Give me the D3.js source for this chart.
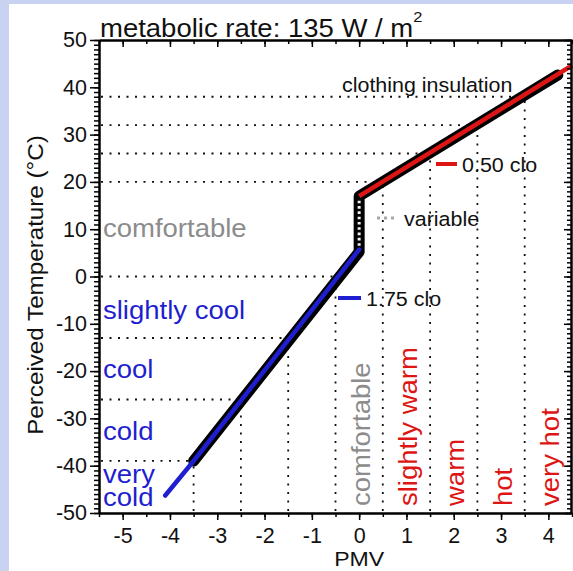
<!DOCTYPE html>
<html>
<head>
<meta charset="utf-8">
<script src="https://cdn.jsdelivr.net/npm/d3@7"></script>
<style>
  body { margin: 0; background: #fff; }
  svg { display: block; font-family: "Liberation Sans", Arial, sans-serif; }
</style>
</head>
<body>
<div id="chart"></div>
<script>
// PMV / perceived temperature band limits (the dotted L-shaped guides)
const pmvThresholds = [-3.5, -2.5, -1.5, -0.5, 0.5, 1.5, 2.5, 3.5];
const ptThresholds = [-39, -26, -13, 0, 20, 26, 32, 38];

// curves: [PMV, perceived temperature]
const coolLine = [[-4.1, -46.3], [-3.5, -39], [0, 5.7]];          // 1.75 clo
const warmLine = [[0, 17], [4.5, 44.6]];                          // 0.50 clo
const variableBand = [[-3.5, -39], [0, 5.2], [0, 17], [4.2, 42.6]]; // variable clo
const variableDots = [[0, 6.5], [0, 16]];

const xTicks = [-5, -4, -3, -2, -1, 0, 1, 2, 3, 4];
const yTicks = [-50, -40, -30, -20, -10, 0, 10, 20, 30, 40, 50];

const coolZones = ["comfortable", "slightly cool", "cool", "cold", "very cold"];
const warmZones = ["comfortable", "slightly warm", "warm", "hot", "very hot"];
const legendLabels = ["0.50 clo", "variable", "1.75 clo"];

const W = 573, H = 571;
const SX = 1.1; // the original lettering is a little wider than Liberation Sans
const BLUE = "#1f1fd0", RED = "#dd1515", GRAY = "#8c8c8c";

const svg = d3.select("#chart")
  .append("svg")
    .attr("width", W)
    .attr("height", H);

// lavender frame strips of the original screenshot
svg.append("rect").attr("width", W).attr("height", H).attr("fill", "#fff");
svg.append("rect").attr("width", 9).attr("height", H).attr("fill", "#c9d2f1");
svg.append("rect").attr("width", W).attr("height", 4).attr("fill", "#c9d2f1");

const x = d3.scaleLinear().domain([-5.5, 4.5]).range([99, 572]);
const y = d3.scaleLinear().domain([-50, 50]).range([513, 40]);

const addText = (parent, txt, px, py, size, color, rotate = 0, anchor = "start") =>
  parent.append("text")
    .attr("transform", `translate(${px},${py}) rotate(${rotate}) scale(${SX},1)`)
    .attr("font-size", size)
    .attr("fill", color)
    .attr("text-anchor", anchor)
    .text(txt);

// dotted guides
const guides = d3.zip(pmvThresholds, ptThresholds);
const grid = svg.append("g")
  .attr("stroke", "#111")
  .attr("stroke-width", 1.8)
  .attr("stroke-dasharray", "2,6.5");

grid.selectAll(".h")
  .data(guides)
  .join("line")
    .attr("class", "h")
    .attr("x1", x(-5.5) + 2)
    .attr("x2", d => x(d[0]))
    .attr("y1", d => y(d[1]))
    .attr("y2", d => y(d[1]));

grid.selectAll(".v")
  .data(guides)
  .join("line")
    .attr("class", "v")
    .attr("x1", d => x(d[0]))
    .attr("x2", d => x(d[0]))
    .attr("y1", y(-50) - 2)
    .attr("y2", d => y(d[1]));

// curves
const line = d3.line().x(d => x(d[0])).y(d => y(d[1]));

svg.append("path")
  .attr("d", line(variableBand))
  .attr("fill", "none")
  .attr("stroke", "#000")
  .attr("stroke-width", 11)
  .attr("stroke-linejoin", "round")
  .attr("stroke-linecap", "round");

svg.append("path")
  .attr("d", line(variableDots))
  .attr("fill", "none")
  .attr("stroke", "#f2f2f2")
  .attr("stroke-width", 3)
  .attr("stroke-dasharray", "2.6,2.7");

svg.append("path")
  .attr("d", line(coolLine))
  .attr("fill", "none")
  .attr("stroke", BLUE)
  .attr("stroke-width", 4.5)
  .attr("stroke-linecap", "round");

svg.append("path")
  .attr("d", line(warmLine))
  .attr("fill", "none")
  .attr("stroke", RED)
  .attr("stroke-width", 4.5);

// axes
const styleAxis = g => {
  g.select(".domain").attr("stroke", "#000").attr("stroke-width", 2);
  g.selectAll(".tick line").attr("stroke", "#000").attr("stroke-width", 1.5);
  g.selectAll(".tick text")
    .attr("fill", "#111")
    .attr("font-size", 21.5)
    .attr("font-family", "'Liberation Sans', Arial, sans-serif");
};

svg.append("g")
  .attr("transform", `translate(0,${y(-50)})`)
  .call(d3.axisBottom(x).tickValues(x.ticks(20)).tickSize(4).tickSizeOuter(0).tickFormat(""))
  .call(styleAxis);

svg.append("g")
  .attr("transform", `translate(0,${y(-50)})`)
  .call(d3.axisBottom(x).tickValues(xTicks).tickSize(7).tickSizeOuter(0).tickPadding(8).tickFormat(d => String(d)))
  .call(styleAxis);

svg.append("g")
  .attr("transform", `translate(0,${y(50)})`)
  .call(d3.axisTop(x).tickValues(x.ticks(20)).tickSize(-4).tickSizeOuter(0).tickFormat(""))
  .call(styleAxis);

svg.append("g")
  .attr("transform", `translate(0,${y(50)})`)
  .call(d3.axisTop(x).tickValues(xTicks).tickSize(-7).tickSizeOuter(0).tickFormat(""))
  .call(styleAxis);

svg.append("g")
  .attr("transform", `translate(${x(-5.5)},0)`)
  .call(d3.axisLeft(y).tickValues(y.ticks(100)).tickSize(5).tickSizeOuter(0).tickFormat(""))
  .call(styleAxis);

svg.append("g")
  .attr("transform", `translate(${x(-5.5)},0)`)
  .call(d3.axisLeft(y).tickValues(yTicks).tickSize(9).tickSizeOuter(0).tickPadding(3).tickFormat(d => String(d)))
  .call(styleAxis);

svg.append("g")
  .attr("transform", `translate(${x(4.5) - 1},0)`)
  .call(d3.axisRight(y).tickValues(y.ticks(100)).tickSize(-4).tickSizeOuter(0).tickFormat(""))
  .call(styleAxis);

svg.append("g")
  .attr("transform", `translate(${x(4.5) - 1},0)`)
  .call(d3.axisRight(y).tickValues(yTicks).tickSize(-7).tickSizeOuter(0).tickFormat(""))
  .call(styleAxis);

// titles
const title = addText(svg, "metabolic rate: 135 W / m", 100, 36.5, 25, "#111");
title.append("tspan").attr("dy", -15).attr("font-size", 15).text("2");

addText(svg, "Perceived Temperature (°C)", 43, 285, 22, "#111", -90, "middle");
addText(svg, "PMV", x(0), 566, 21, "#111", 0, "middle");

// cool-side zone labels, stacked down the left edge
const coolBaselines = [237, 319, 378, 440, 483];
coolZones.forEach((z, i) => {
  const color = i === 0 ? GRAY : BLUE;
  if (z === "very cold") {
    addText(svg, "very", 103, coolBaselines[i], 25, color);
    addText(svg, "cold", 103, coolBaselines[i] + 23, 25, color);
  } else {
    addText(svg, z, 103, coolBaselines[i], 25, color);
  }
});

// warm-side zone labels, upright at each PMV unit
warmZones.forEach((z, i) => {
  addText(svg, z, x(i) + 10.5, 506, 25, i === 0 ? GRAY : RED, -90);
});

// legend / annotations
addText(svg, "clothing insulation", 342, 92, 19.5, "#111");

svg.append("line")
  .attr("x1", 436).attr("x2", 457).attr("y1", 164).attr("y2", 164)
  .attr("stroke", RED).attr("stroke-width", 4);
addText(svg, legendLabels[0], 462, 172, 19.5, "#111");

svg.append("line")
  .attr("x1", 377).attr("x2", 396).attr("y1", 218).attr("y2", 218)
  .attr("stroke", "#a8a8a8").attr("stroke-width", 3).attr("stroke-dasharray", "3,4");
addText(svg, legendLabels[1], 404, 226, 19.5, "#111");

svg.append("line")
  .attr("x1", 338).attr("x2", 361).attr("y1", 298).attr("y2", 298)
  .attr("stroke", BLUE).attr("stroke-width", 4);
addText(svg, legendLabels[2], 366, 306, 19.5, "#111");
</script>
</body>
</html>
